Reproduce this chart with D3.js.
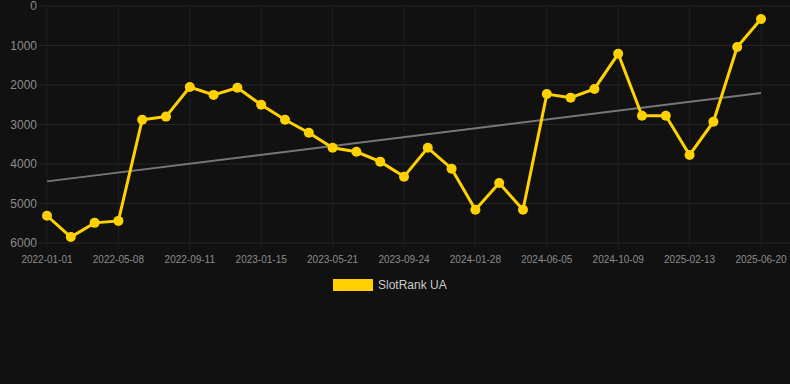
<!DOCTYPE html>
<html>
<head>
<meta charset="utf-8">
<script src="https://cdn.jsdelivr.net/npm/d3@7"></script>
<style>
  html, body { margin: 0; padding: 0; background: #111111; }
  svg { display: block; font-family: "Liberation Sans", Arial, sans-serif; }
</style>
</head>
<body>
<svg id="drawing_region"></svg>
<script>
// dates of each point (every third one is labelled on the axis)
const dates = [
  '2022-01-01','2022-02-12','2022-03-26','2022-05-08','2022-06-19','2022-07-31',
  '2022-09-11','2022-10-23','2022-12-04','2023-01-15','2023-02-26','2023-04-09',
  '2023-05-21','2023-07-02','2023-08-13','2023-09-24','2023-11-05','2023-12-17',
  '2024-01-28','2024-03-11','2024-04-23','2024-06-05','2024-07-17','2024-08-28',
  '2024-10-09','2024-11-20','2025-01-01','2025-02-13','2025-03-27','2025-05-08',
  '2025-06-20'
];
const rankUA = [
  5310, 5850, 5490, 5440, 2880, 2800, 2050, 2250, 2070, 2500, 2880,
  3210, 3590, 3690, 3940, 4320, 3590, 4120, 5160, 4480, 5160,
  2230, 2320, 2100, 1210, 2780, 2780, 3770, 2930, 1040, 330
];
const trendEnds = [4440, 2200];
const yTicks = [0, 1000, 2000, 3000, 4000, 5000, 6000];
const seriesName = 'SlotRank UA';

const width = 790, height = 384;
const margin = { left: 47, right: 29, top: 6, bottom: 141 };

const svg = d3.select('#drawing_region')
    .attr('width', width)
    .attr('height', height);

const x = d3.scalePoint()
    .domain(dates)
    .range([margin.left, width - margin.right]);

const y = d3.scaleLinear()
    .domain([0, 6000])
    .range([margin.top, height - margin.bottom]);

const xLabels = dates.filter((d, i) => i % 3 === 0);

// grid
svg.append('g')
  .selectAll('line')
  .data(yTicks)
  .join('line')
    .attr('x1', 39).attr('x2', width)
    .attr('y1', d => y(d)).attr('y2', d => y(d))
    .attr('stroke', '#262626').attr('stroke-width', 1);

svg.append('g')
  .selectAll('line')
  .data(xLabels)
  .join('line')
    .attr('x1', d => x(d)).attr('x2', d => x(d))
    .attr('y1', margin.top).attr('y2', y(6000) + 6)
    .attr('stroke', '#1f1f1f').attr('stroke-width', 1);

// y axis labels
svg.append('g')
  .selectAll('text')
  .data(yTicks)
  .join('text')
    .attr('x', 37)
    .attr('y', d => y(d))
    .attr('dy', '0.35em')
    .attr('text-anchor', 'end')
    .attr('fill', '#8c8c8c')
    .style('font-size', '12px')
    .text(d => d);

// x axis labels
svg.append('g')
  .selectAll('text')
  .data(xLabels)
  .join('text')
    .attr('x', d => x(d))
    .attr('y', 263)
    .attr('text-anchor', 'middle')
    .attr('fill', '#8c8c8c')
    .style('font-size', '10px')
    .text(d => d);

// trend line
svg.append('line')
    .attr('x1', x(dates[0])).attr('x2', x(dates[dates.length - 1]))
    .attr('y1', y(trendEnds[0])).attr('y2', y(trendEnds[1]))
    .attr('stroke', '#777777').attr('stroke-width', 2);

// series
const line = d3.line()
    .x((d, i) => x(dates[i]))
    .y(d => y(d));

svg.append('path')
    .datum(rankUA)
    .attr('d', line)
    .attr('fill', 'none')
    .attr('stroke', '#ffd100')
    .attr('stroke-width', 3);

svg.append('g')
  .selectAll('circle')
  .data(rankUA)
  .join('circle')
    .attr('cx', (d, i) => x(dates[i]))
    .attr('cy', d => y(d))
    .attr('r', 5)
    .attr('fill', '#ffd100');

// legend
const legend = svg.append('g').attr('transform', 'translate(333,279)');
legend.append('rect')
    .attr('width', 40).attr('height', 12)
    .attr('fill', '#ffd100');
legend.append('text')
    .attr('x', 45).attr('y', 6)
    .attr('dy', '0.35em')
    .attr('fill', '#cccccc')
    .style('font-size', '12px')
    .text(seriesName);
</script>
</body>
</html>
